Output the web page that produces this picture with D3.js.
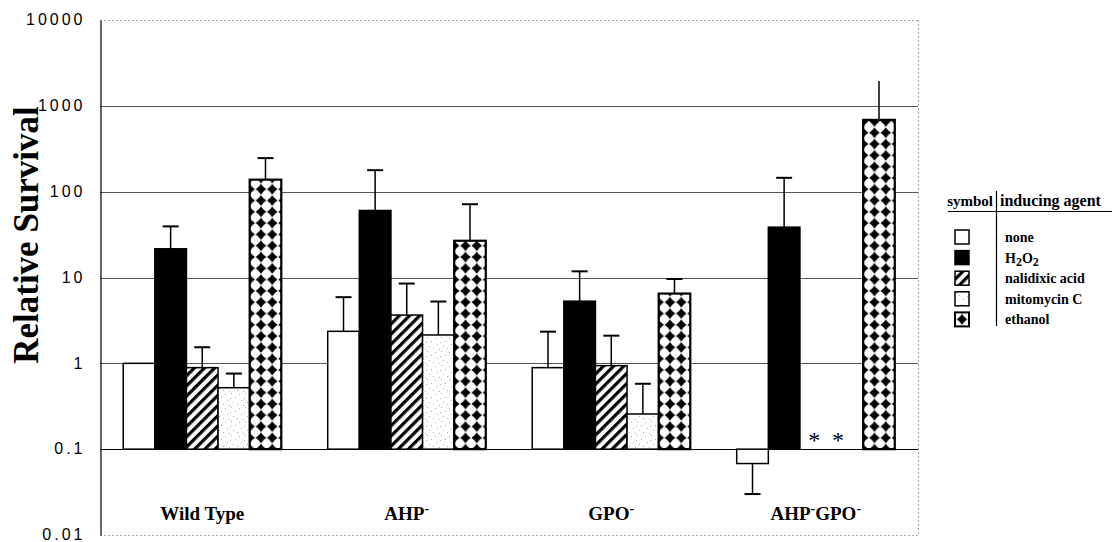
<!DOCTYPE html>
<html><head><meta charset="utf-8">
<script src="https://cdn.jsdelivr.net/npm/d3@7"></script>
<style>
body{margin:0;background:#fff;}
svg{display:block;}
</style></head><body>
<svg id="chart" width="1112" height="542"></svg>
<script>
// ---------- data ----------
const categories = ["Wild Type", "AHP-", "GPO-", "AHP-GPO-"];
const agents = ["none", "H2O2", "nalidixic acid", "mitomycin C", "ethanol"];
const noneVals      = [1.0, 2.36, 0.89, 0.068];
const h2o2Vals      = [21.6, 60.4, 5.3, 38.6];
const nalidixicVals = [0.89, 3.65, 0.94, null];
const mitomycinVals = [0.52, 2.14, 0.257, null];
const ethanolVals   = [138, 26.8, 6.5, 686];
const noneErr       = [null, 5.9, 2.34, 0.030];
const h2o2Err       = [39.4, 178, 11.8, 145];
const nalidixicErr  = [1.54, 8.5, 2.1, null];
const mitomycinErr  = [0.76, 5.25, 0.578, null];
const ethanolErr    = [246, 71.4, 9.6, 1945];
const caplessErr    = ["AHP-GPO-|ethanol"];
const yTicks = [0.01, 0.1, 1, 10, 100, 1000, 10000];
const yTickLabels = ["0.01", "0.1", "1", "10", "100", "1000", "10000"];
const baselineValue = 0.1;
const yTitle = "Relative Survival";
const legendHeader = ["symbol", "inducing agent"];

const seriesVals = [noneVals, h2o2Vals, nalidixicVals, mitomycinVals, ethanolVals];
const seriesErr = [noneErr, h2o2Err, nalidixicErr, mitomycinErr, ethanolErr];

// ---------- layout ----------
const svg = d3.select("#chart");
const plot = {left: 100, right: 918, top: 20, bottom: 535};
const serif = "'Liberation Serif','Times New Roman',Times,serif";
const sans = "'Liberation Sans',Arial,Helvetica,sans-serif";

const y = d3.scaleLog().domain([0.01, 10000]).range([plot.bottom, plot.top]);
const x0 = d3.scaleBand().domain(categories).range([plot.left, plot.right])
  .paddingInner(0.227).paddingOuter(0.1135);
const x1 = d3.scaleBand().domain(agents).range([0, x0.bandwidth()]);

// ---------- patterns ----------
const defs = svg.append("defs");
const hatch = defs.append("pattern").attr("id", "hatch")
  .attr("patternUnits", "userSpaceOnUse").attr("width", 7.2).attr("height", 7.2)
  .attr("patternTransform", "rotate(45)");
hatch.append("rect").attr("width", 7.2).attr("height", 7.2).attr("fill", "#fff");
hatch.append("rect").attr("width", 3.2).attr("height", 7.2).attr("fill", "#000");

const stip = defs.append("pattern").attr("id", "stipple")
  .attr("patternUnits", "userSpaceOnUse").attr("width", 14).attr("height", 14);
stip.append("rect").attr("width", 14).attr("height", 14).attr("fill", "#fff");
[[1,2],[7,1],[11,5],[3,8],[9,10],[13,12],[5,13],[6,6]].forEach(p =>
  stip.append("rect").attr("x", p[0]).attr("y", p[1]).attr("width", 0.9).attr("height", 0.9).attr("fill", "#999"));

function diamondPattern(id, ox, oy, p) {
  const pat = defs.append("pattern").attr("id", id)
    .attr("patternUnits", "userSpaceOnUse").attr("width", p).attr("height", p)
    .attr("x", ox).attr("y", oy);
  pat.append("rect").attr("width", p).attr("height", p).attr("fill", "#fff");
  const h = p * 0.47, c = p / 2, k = p * 0.17;
  pat.append("path").attr("fill", "#000").attr("d",
    `M${c},${c - h} Q${c + k},${c - k} ${c + h},${c} Q${c + k},${c + k} ${c},${c + h} ` +
    `Q${c - k},${c + k} ${c - h},${c} Q${c - k},${c - k} ${c},${c - h}Z`);
  return `url(#${id})`;
}

// ---------- grid ----------
const g = svg.append("g");
yTicks.forEach(t => {
  const yy = Math.round(y(t)) + 0.5;
  let stroke = "#555", dash = null, w = 1;
  if (t === 10000 || t === 0.01) { stroke = "#aaa"; dash = "2,2"; }
  if (t === baselineValue) { stroke = "#000"; w = 1.2; }
  g.append("line").attr("x1", plot.left).attr("x2", plot.right)
    .attr("y1", yy).attr("y2", yy).attr("stroke", stroke).attr("stroke-width", w)
    .attr("stroke-dasharray", dash);
});
g.append("line").attr("x1", plot.right + 0.5).attr("x2", plot.right + 0.5)
  .attr("y1", plot.top).attr("y2", plot.bottom).attr("stroke", "#aaa").attr("stroke-dasharray", "2,2");

// y axis
const yAxis = d3.axisLeft(y).tickValues(yTicks)
  .tickFormat(d => yTickLabels[yTicks.indexOf(d)]).tickSize(0).tickPadding(15);
const ya = svg.append("g").attr("transform", `translate(${plot.left + 0.5},0)`).call(yAxis);
ya.select(".domain").attr("stroke", "#000").attr("stroke-width", 1.2);
ya.selectAll("text").attr("font-family", sans).attr("font-size", 16)
  .attr("letter-spacing", "3px").attr("fill", "#000").attr("dy", "0.3em");

// y title
svg.append("text").attr("transform", `translate(38,235) rotate(-90)`)
  .attr("text-anchor", "middle").attr("font-family", serif).attr("font-weight", "bold")
  .attr("font-size", 35).text(yTitle);

// ---------- bars ----------
const bars = [];
categories.forEach((c, ci) => {
  agents.forEach((a, ai) => {
    bars.push({cat: c, ci, agent: a, ai, v: seriesVals[ai][ci], e: seriesErr[ai][ci]});
  });
});
const bw = x1.bandwidth();
const y0 = y(baselineValue);
const P = 11.3;
function fillFor(d) {
  if (d.ai === 0) return "#fff";
  if (d.ai === 1) return "#000";
  if (d.ai === 2) return "url(#hatch)";
  if (d.ai === 3) return "url(#stipple)";
  return diamondPattern("dia" + d.ci, x0(d.cat) + x1(d.agent) - P / 2, y0 - P / 2, P);
}
const barG = svg.append("g");
bars.filter(d => d.v != null).forEach(d => {
  const bx = x0(d.cat) + x1(d.agent);
  const yv = y(d.v);
  if (d.e != null) {
    const cx = bx + bw / 2;
    barG.append("line").attr("x1", cx).attr("x2", cx).attr("y1", yv).attr("y2", y(d.e))
      .attr("stroke", "#000").attr("stroke-width", 1.5);
    if (!caplessErr.includes(d.cat + "|" + d.agent)) {
      barG.append("line").attr("x1", cx - 8).attr("x2", cx + 8).attr("y1", y(d.e)).attr("y2", y(d.e))
        .attr("stroke", "#000").attr("stroke-width", 2);
    }
  }
  barG.append("rect").attr("x", bx).attr("y", Math.min(yv, y0)).attr("width", bw)
    .attr("height", Math.abs(y0 - yv)).attr("fill", fillFor(d))
    .attr("stroke", "#000").attr("stroke-width", d.ai === 4 ? 2.2 : 1.5);
});
// missing values marked with asterisks
const missOffsets = [0.45, 0.2, 0.45, 0.2, 0.45];
bars.filter(d => d.v == null).forEach(d => {
  svg.append("text").attr("x", x0(d.cat) + x1(d.agent) + bw * missOffsets[d.ai])
    .attr("y", y0 - 1).attr("text-anchor", "middle").attr("font-family", serif)
    .attr("font-size", 24).text("*");
});

// ---------- category labels ----------
categories.forEach(c => {
  const t = svg.append("text").attr("x", x0(c) + x0.bandwidth() / 2).attr("y", 520)
    .attr("text-anchor", "middle").attr("font-family", serif).attr("font-weight", "bold")
    .attr("font-size", 19);
  const parts = c.split(/(-)/).filter(s => s.length);
  let raised = false;
  parts.forEach(p => {
    if (p === "-") {
      t.append("tspan").attr("dy", -7).attr("font-size", 14).text("-");
      raised = true;
    } else {
      t.append("tspan").attr("dy", raised ? 7 : 0).text(p);
      raised = false;
    }
  });
});

// ---------- legend ----------
const lg = svg.append("g");
const divX = 996.5, headY = 206;
lg.append("text").attr("x", 993).attr("y", headY).attr("text-anchor", "end")
  .attr("font-family", serif).attr("font-weight", "bold").attr("font-size", 15).text(legendHeader[0]);
lg.append("text").attr("x", 1000).attr("y", headY)
  .attr("font-family", serif).attr("font-weight", "bold").attr("font-size", 16).text(legendHeader[1]);
lg.append("line").attr("x1", 948).attr("x2", 1112).attr("y1", headY + 5.5).attr("y2", headY + 5.5)
  .attr("stroke", "#000").attr("stroke-width", 1.2);
lg.append("line").attr("x1", divX).attr("x2", divX).attr("y1", headY - 15).attr("y2", headY + 120)
  .attr("stroke", "#000").attr("stroke-width", 1.2);
agents.forEach((a, i) => {
  const cy = 237 + i * 20.6;
  let fill;
  if (i === 4) fill = diamondPattern("diaLeg", 955 - P / 2 + 7, cy - P / 2, P);
  else fill = fillFor({ai: i});
  lg.append("rect").attr("x", 955).attr("y", cy - 7).attr("width", 14).attr("height", 14)
    .attr("fill", fill).attr("stroke", "#000").attr("stroke-width", i === 4 ? 2 : 1.5);
  const t = lg.append("text").attr("x", 1005).attr("y", cy + 5)
    .attr("font-family", serif).attr("font-weight", "bold").attr("font-size", 14);
  if (a === "H2O2") {
    t.append("tspan").text("H");
    t.append("tspan").attr("dy", 3).attr("font-size", 12).text("2");
    t.append("tspan").attr("dy", -3).text("O");
    t.append("tspan").attr("dy", 3).attr("font-size", 12).text("2");
  } else t.text(a);
});
</script>
</body></html>
